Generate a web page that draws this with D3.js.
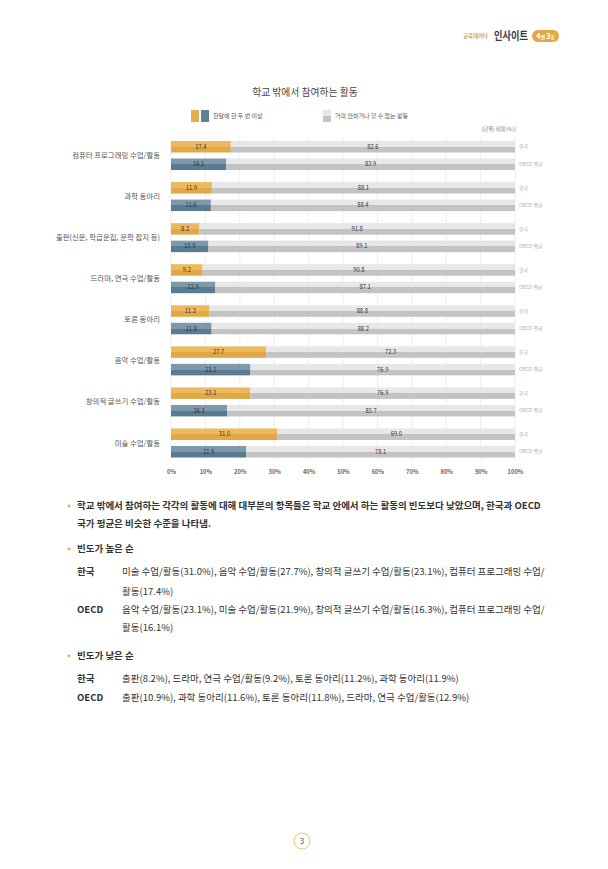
<!DOCTYPE html>
<html><head><meta charset="utf-8">
<script src="https://cdn.jsdelivr.net/npm/d3@7/dist/d3.min.js"></script>
<style>
html,body{margin:0;padding:0;background:#fff;}
svg{display:block;font-family:"Noto Sans CJK KR","Noto Sans",sans-serif;}
</style></head>
<body>
<svg id="c" width="608" height="869"></svg>
<script>
const categories = ['컴퓨터 프로그래밍 수업/활동','과학 동아리','출판(신문, 학급문집, 문학 잡지 등)','드라마, 연극 수업/활동','토론 동아리','음악 수업/활동','창의적 글쓰기 수업/활동','미술 수업/활동'];
const seriesNames = ['한국','OECD 평균'];
const koreaOften = [17.4, 11.9, 8.2, 9.2, 11.2, 27.7, 23.1, 31.0];
const koreaRarely = [82.6, 88.1, 91.8, 90.8, 88.8, 72.3, 76.9, 69.0];
const oecdOften = [16.1, 11.6, 10.9, 12.9, 11.8, 23.1, 16.3, 21.9];
const oecdRarely = [83.9, 88.4, 89.1, 87.1, 88.2, 76.9, 83.7, 78.1];
const xTicks = [0,10,20,30,40,50,60,70,80,90,100];
const legendLabels = ['한달에 한 두 번 이상','거의 안하거나 할 수 없는 활동'];

const svg = d3.select('#c');
const defs = svg.append('defs');
function grad(id, top, bottom){
  const g = defs.append('linearGradient').attr('id', id).attr('x1',0).attr('y1',0).attr('x2',0).attr('y2',1);
  g.append('stop').attr('offset','0%').attr('stop-color',top);
  g.append('stop').attr('offset','50%').attr('stop-color',top);
  g.append('stop').attr('offset','50%').attr('stop-color',bottom);
  g.append('stop').attr('offset','100%').attr('stop-color',bottom);
}
grad('gOr','#ecb95f','#e2a848');
grad('gBl','#7e99ac','#587b91');
grad('gGr','#e7e7e7','#c3c3c3');

// header
const hdr = svg.append('g');
hdr.append('text').attr('x',463).attr('y',38).attr('font-size',5.4).attr('fill','#c9a25e').attr('font-weight',700).text('교육데이터');
hdr.append('text').attr('x',494).attr('y',40).attr('font-size',11).attr('fill','#3a3a46').attr('font-weight',700)
  .attr('textLength',34).attr('lengthAdjust','spacingAndGlyphs').text('인사이트');
hdr.append('rect').attr('x',532).attr('y',30).attr('width',27).attr('height',12).attr('rx',6).attr('fill','#e3a746');
const bt = hdr.append('text').attr('x',545.5).attr('y',39).attr('text-anchor','middle').attr('fill','#fff').attr('font-weight',700);
bt.append('tspan').attr('font-size',7.5).text('4');
bt.append('tspan').attr('font-size',4.6).text('권 ');
bt.append('tspan').attr('font-size',7.5).text('3');
bt.append('tspan').attr('font-size',4.6).text('호');

// title
svg.append('text').attr('x',305).attr('y',96).attr('text-anchor','middle').attr('font-size',9.8).attr('fill','#444').text('학교 밖에서 참여하는 활동');

// legend
svg.append('rect').attr('x',191).attr('y',110).attr('width',8).attr('height',12).attr('fill','#e6ad4c');
svg.append('rect').attr('x',201).attr('y',110).attr('width',8).attr('height',12).attr('fill','#5f8298');
svg.append('text').attr('x',213).attr('y',118).attr('font-size',6).attr('fill','#555').text(legendLabels[0]);
svg.append('rect').attr('x',323).attr('y',110).attr('width',8).attr('height',12).attr('fill','url(#gGr)');
svg.append('text').attr('x',335).attr('y',118).attr('font-size',6).attr('fill','#555').text(legendLabels[1]);
svg.append('text').attr('x',516).attr('y',131).attr('text-anchor','end').attr('font-size',5.3).attr('fill','#777').text('[단위: 비율(%)]');

// scales
const x = d3.scaleLinear().domain([0,100]).range([171,515]);
const y = d3.scaleBand().domain(categories).range([135, 135 + 8*41.07]);
const ys = d3.scaleBand().domain(seriesNames).range([6,35]).paddingInner(0.343);

// gridlines
svg.append('g').selectAll('line').data(xTicks).join('line')
  .attr('x1',d=>x(d)).attr('x2',d=>x(d)).attr('y1',137).attr('y2',460)
  .attr('stroke','#e9e9e9').attr('stroke-width',0.8);

// axis
const ax = svg.append('g').attr('transform','translate(0,464)')
  .call(d3.axisBottom(x).tickValues(xTicks).tickFormat(d=>d+'%').tickSize(0).tickPadding(6));
ax.select('.domain').remove();
ax.selectAll('text').attr('font-size',5.8).attr('fill','#666').attr('font-weight',600).attr('font-family','"Noto Sans CJK KR","Noto Sans",sans-serif');

// data rows
const rows = categories.map((c,i)=>({cat:c, series:[
  {name:seriesNames[0], often:koreaOften[i], rarely:koreaRarely[i], fill:'url(#gOr)'},
  {name:seriesNames[1], often:oecdOften[i], rarely:oecdRarely[i], fill:'url(#gBl)'}
]}));
const fmt = d3.format('.1f');
const bw = ys.bandwidth();

const grp = svg.append('g').selectAll('g').data(rows).join('g')
  .attr('transform',d=>`translate(0,${y(d.cat)})`);
grp.append('text').attr('x',160).attr('y',6+14.5).attr('dy','0.35em').attr('text-anchor','end')
  .attr('font-size',7.4).attr('fill','#555').text(d=>d.cat);

const sg = grp.selectAll('g.s').data(d=>d.series).join('g').attr('class','s')
  .attr('transform',d=>`translate(0,${ys(d.name)})`);
sg.append('rect').attr('x',x(0)).attr('y',0).attr('width',d=>x(d.often)-x(0)).attr('height',bw).attr('fill',d=>d.fill);
sg.append('rect').attr('x',d=>x(d.often)).attr('y',0).attr('width',d=>x(d.often+d.rarely)-x(d.often)).attr('height',bw).attr('fill','url(#gGr)');
sg.append('text').attr('x',d=>x(d.often/2)).attr('y',bw/2).attr('dy','0.35em').attr('text-anchor','middle')
  .attr('font-size',5.8).attr('fill','#333').text(d=>fmt(d.often));
sg.append('text').attr('x',d=>x(d.often + d.rarely/2)).attr('y',bw/2).attr('dy','0.35em').attr('text-anchor','middle')
  .attr('font-size',5.8).attr('fill','#333').text(d=>fmt(d.rarely));
sg.append('text').attr('x',519).attr('y',bw/2).attr('dy','0.35em')
  .attr('font-size',5).attr('fill','#aaa').text(d=>d.name);

// body text
const body = svg.append('g').attr('font-size',9.5).attr('fill','#333');
function bullet(yy){ body.append('circle').attr('cx',69).attr('cy',yy-3.2).attr('r',1.6).attr('fill','#e6b85a'); }
bullet(509);
body.append('text').attr('x',77).attr('y',509).attr('font-weight',700).text('학교 밖에서 참여하는 각각의 활동에 대해 대부분의 항목들은 학교 안에서 하는 활동의 빈도보다 낮았으며, 한국과 OECD');
body.append('text').attr('x',77).attr('y',527).attr('font-weight',700).text('국가 평균은 비슷한 수준을 나타냄.');
bullet(552);
body.append('text').attr('x',77).attr('y',552).attr('font-weight',700).text('빈도가 높은 순');
body.append('text').attr('x',77).attr('y',575).attr('font-weight',700).text('한국');
body.append('text').attr('x',122).attr('y',575).text('미술 수업/활동(31.0%), 음악 수업/활동(27.7%), 창의적 글쓰기 수업/활동(23.1%), 컴퓨터 프로그래밍 수업/');
body.append('text').attr('x',122).attr('y',595).text('활동(17.4%)');
body.append('text').attr('x',77).attr('y',613).attr('font-weight',700).text('OECD');
body.append('text').attr('x',122).attr('y',613).text('음악 수업/활동(23.1%), 미술 수업/활동(21.9%), 창의적 글쓰기 수업/활동(16.3%), 컴퓨터 프로그래밍 수업/');
body.append('text').attr('x',122).attr('y',631).text('활동(16.1%)');
bullet(659);
body.append('text').attr('x',77).attr('y',659).attr('font-weight',700).text('빈도가 낮은 순');
body.append('text').attr('x',77).attr('y',682).attr('font-weight',700).text('한국');
body.append('text').attr('x',122).attr('y',682).text('출판(8.2%), 드라마, 연극 수업/활동(9.2%), 토론 동아리(11.2%), 과학 동아리(11.9%)');
body.append('text').attr('x',77).attr('y',701).attr('font-weight',700).text('OECD');
body.append('text').attr('x',122).attr('y',701).text('출판(10.9%), 과학 동아리(11.6%), 토론 동아리(11.8%), 드라마, 연극 수업/활동(12.9%)');

// page number
svg.append('circle').attr('cx',302).attr('cy',841).attr('r',8).attr('fill','none').attr('stroke','#e8c77a').attr('stroke-width',1);
svg.append('text').attr('x',302).attr('y',841).attr('dy','0.35em').attr('text-anchor','middle').attr('font-size',8).attr('fill','#555').text('3');
</script>
</body></html>
